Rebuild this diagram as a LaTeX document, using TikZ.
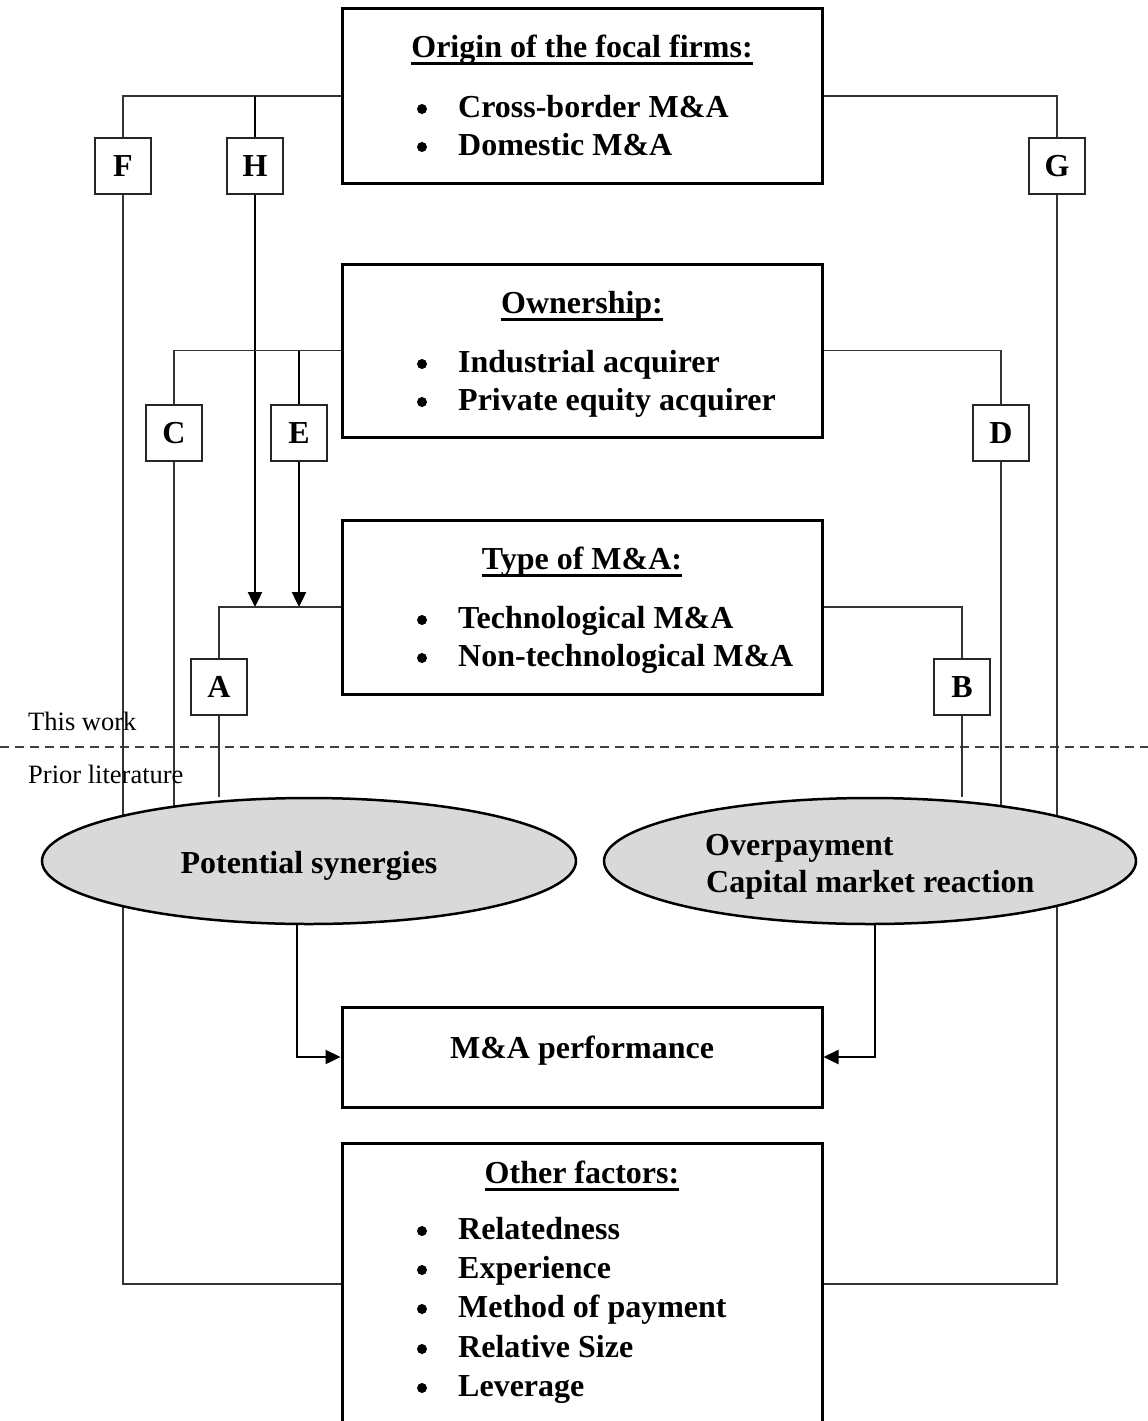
\documentclass[tikz,border=0pt]{standalone}
\usepackage{fontspec}
\setmainfont{Liberation Serif}
\usetikzlibrary{arrows.meta,shapes.geometric}
\pgfdeclarelayer{bg}
\pgfsetlayers{bg,main}
\tikzset{
 mainbox/.style={draw=black, line width=3pt, minimum width=480pt, inner sep=0pt},
 letterbox/.style={draw=black!85, line width=1.5pt, minimum width=56pt, minimum height=56pt, inner sep=0pt, font=\fontsize{32}{38}\selectfont\bfseries},
 conn/.style={draw=black!80, line width=1.4pt},
 thickconn/.style={draw=black, line width=2.4pt},
 arr/.style={-{Triangle[width=14pt,length=15pt]}},
 oval/.style={ellipse, draw=black, line width=2.5pt, fill=black!15, inner sep=0pt},
 txt/.style={inner sep=0pt, font=\fontsize{32}{38}\selectfont\bfseries},
 ttl/.style={txt, anchor=base},
 itm/.style={txt, anchor=base west},
 dot/.style={circle, fill=black, minimum size=10pt, inner sep=0pt},
 note/.style={inner sep=0pt, anchor=base west, font=\fontsize{26.5}{30}\selectfont},
 uline/.style={line width=3pt},
 divider/.style={draw=black!75, line width=1.5pt, dash pattern=on 9pt off 6pt},
}
\begin{document}
\begin{tikzpicture}[x=1pt,y=-1pt]
\useasboundingbox (0,0) rectangle (1148,1421);
\clip (0,0) rectangle (1148,1421);

% main boxes
\node[mainbox, minimum height=174pt] (origin) at (582,96) {};
\node[mainbox, minimum height=173pt] (owner) at (582,350.5) {};
\node[mainbox, minimum height=174pt] (mtype) at (582,607) {};
\node[mainbox, minimum height=100pt] (perf) at (582,1057) {};
\node[mainbox, minimum height=282pt] (other) at (582,1284) {};

% ellipses
\node[oval, minimum width=534pt, minimum height=126pt] (synergy) at (309,861) {};
\node[oval, minimum width=532pt, minimum height=126pt] (overpay) at (870,861) {};

% letter boxes
\node[letterbox] (F) at (123,166) {F};
\node[letterbox] (H) at (255,166) {H};
\node[letterbox] (G) at (1057,166) {G};
\node[letterbox] (C) at (174,433) {C};
\node[letterbox] (E) at (299,433) {E};
\node[letterbox] (D) at (1001,433) {D};
\node[letterbox] (A) at (219,687) {A};
\node[letterbox] (B) at (962,687) {B};

% texts: origin
\node[ttl] (t1) at (582,58) {Origin of the focal firms:};
\draw[uline] ([yshift=-6pt]t1.base west) -- ([yshift=-6pt]t1.base east);
\node[dot] (o1d) at (422,109) {};
\node[dot] (o2d) at (422,147) {};
\node[itm] (o1) at (458,117) {Cross-border M\&A};
\node[itm] (o2) at (458,155) {Domestic M\&A};

% ownership
\node[ttl] (t2) at (582,313) {Ownership:};
\draw[uline] ([yshift=-6pt]t2.base west) -- ([yshift=-6pt]t2.base east);
\node[dot] (w1d) at (422,364) {};
\node[dot] (w2d) at (422,402) {};
\node[itm] (w1) at (458,372) {Industrial acquirer};
\node[itm] (w2) at (458,410) {Private equity acquirer};

% type
\node[ttl] (t3) at (582,569) {Type of M\&A:};
\draw[uline] ([yshift=-6pt]t3.base west) -- ([yshift=-6pt]t3.base east);
\node[dot] (y1d) at (422,620) {};
\node[dot] (y2d) at (422,658) {};
\node[itm] (y1) at (458,628) {Technological M\&A};
\node[itm] (y2) at (458,666) {Non-technological M\&A};

% performance
\node[ttl] (ptxt) at (582,1058) {M\&A performance};

% other factors
\node[ttl] (t4) at (582,1183) {Other factors:};
\draw[uline] ([yshift=-6pt]t4.base west) -- ([yshift=-6pt]t4.base east);
\node[dot] (f1d) at (422,1231) {};
\node[dot] (f2d) at (422,1270) {};
\node[dot] (f3d) at (422,1309) {};
\node[dot] (f4d) at (422,1349) {};
\node[dot] (f5d) at (422,1388) {};
\node[itm] (f1) at (458,1239) {Relatedness};
\node[itm] (f2) at (458,1278) {Experience};
\node[itm] (f3) at (458,1317) {Method of payment};
\node[itm] (f4) at (458,1357) {Relative Size};
\node[itm] (f5) at (458,1396) {Leverage};

% ellipse texts
\node[ttl] (s1) at (309,873) {Potential synergies};
\node[itm] (p1) at (705,855) {Overpayment};
\node[itm] (p2) at (706,892) {Capital market reaction};

% side notes
\node[note] (tw) at (28,730) {This work};
\node[note] (pl) at (28,783) {Prior literature};
\coordinate (dl) at (0,747);
\coordinate (dr) at (1148,747);

\begin{pgfonlayer}{bg}
\draw[divider] (dl) -- (dr);
% origin
\draw[conn] (origin.west) -| (F.north);
\draw[conn] (F.south) |- (other.west);
\draw[conn] (origin.east) -| (G.north);
\draw[conn] (G.south) |- (other.east);
\draw[thickconn] (origin.west -| H.north) -- (H.north);
\draw[thickconn, arr] (H.south) -- (H.south |- mtype.west);
% ownership
\draw[conn] (owner.west) -| (C.north);
\draw[conn] (C.south) -- (C.south |- synergy.center);
\draw[conn] (owner.east) -| (D.north);
\draw[conn] (D.south) -- (D.south |- overpay.center);
\draw[thickconn] (owner.west -| E.north) -- (E.north);
\draw[thickconn, arr] (E.south) -- (E.south |- mtype.west);
% type
\draw[conn] (mtype.west) -| (A.north);
\draw[conn] (A.south) -- (A.south |- synergy.north);
\draw[conn] (mtype.east) -| (B.north);
\draw[conn] (B.south) -- (B.south |- overpay.north);
% to performance
\draw[thickconn, arr] ([xshift=-12pt]synergy.south) |- (perf.west);
\draw[thickconn, arr] ([xshift=5pt]overpay.south) |- (perf.east);
\end{pgfonlayer}
\end{tikzpicture}
\end{document}
